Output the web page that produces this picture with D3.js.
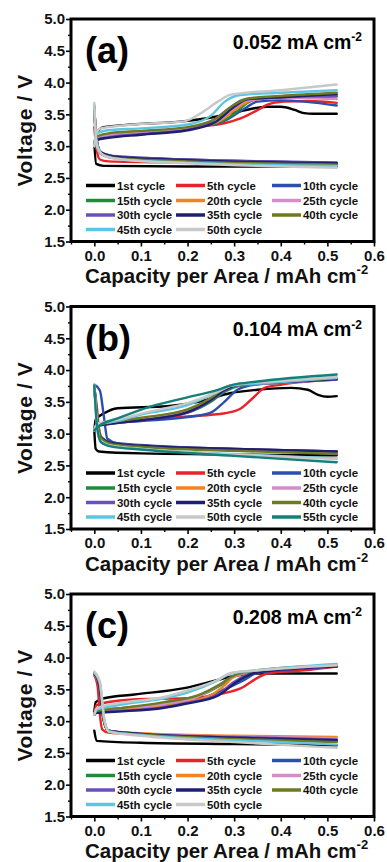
<!DOCTYPE html>
<html>
<head>
<meta charset="utf-8">
<script src="https://cdn.jsdelivr.net/npm/d3@7"></script>
<style>
  html, body { margin: 0; padding: 0; background: #fff; }
  svg { display: block; font-family: "Liberation Sans", Arial, sans-serif; font-weight: bold; }
</style>
</head>
<body>
<svg id="chart" width="387" height="862"></svg>
<script>
// ---- data (capacity mAh cm-2, voltage V) ----
const panelLabels = ["(a)", "(b)", "(c)"];
const currentDensity = ["0.052", "0.104", "0.208"];

const cyclesAC = ["1st cycle", "5th cycle", "10th cycle", "15th cycle", "20th cycle", "25th cycle",
    "30th cycle", "35th cycle", "40th cycle", "45th cycle", "50th cycle"];
const cyclesB = cyclesAC.concat(["55th cycle"]);

const xTicks = [0.0, 0.1, 0.2, 0.3, 0.4, 0.5, 0.6];
const xMinorTicks = [-0.05, 0.05, 0.15, 0.25, 0.35, 0.45, 0.55];
const yTicks = [1.5, 2.0, 2.5, 3.0, 3.5, 4.0, 4.5, 5.0];
const yMinorTicks = [1.75, 2.25, 2.75, 3.25, 3.75, 4.25, 4.75];

// panel (a) 0.052 mA cm-2
const chargeA = [
    [[0,3.0],[0.004,3.2],[0.02,3.3],[0.08,3.34],[0.19,3.39],[0.265,3.47],[0.32,3.56],[0.37,3.62],[0.4,3.62],[0.43,3.57],[0.45,3.52],[0.47,3.51],[0.52,3.51]],
    [[0,3.0],[0.005,3.1],[0.03,3.15],[0.1,3.2],[0.229,3.31],[0.279,3.36],[0.315,3.44],[0.351,3.57],[0.37,3.65],[0.407,3.7],[0.46,3.71],[0.52,3.68]],
    [[0,3.0],[0.005,3.1],[0.03,3.15],[0.1,3.2],[0.22,3.3],[0.28,3.4],[0.32,3.58],[0.35,3.7],[0.4,3.72],[0.52,3.64]],
    [[0,3.0],[0.005,3.12],[0.03,3.18],[0.1,3.22],[0.22,3.3],[0.279,3.41],[0.307,3.55],[0.328,3.68],[0.36,3.75],[0.45,3.77],[0.52,3.78]],
    [[0,3.0],[0.005,3.12],[0.03,3.18],[0.1,3.22],[0.22,3.3],[0.27,3.4],[0.3,3.56],[0.33,3.7],[0.37,3.76],[0.52,3.8]],
    [[0,3.0],[0.005,3.12],[0.03,3.17],[0.1,3.21],[0.22,3.3],[0.27,3.42],[0.3,3.6],[0.33,3.72],[0.4,3.76],[0.52,3.74]],
    [[0,3.0],[0.005,3.1],[0.03,3.14],[0.1,3.19],[0.2,3.26],[0.25,3.38],[0.29,3.6],[0.32,3.73],[0.4,3.77],[0.52,3.79]],
    [[0,3.0],[0.005,3.1],[0.03,3.13],[0.1,3.18],[0.2,3.25],[0.26,3.38],[0.3,3.62],[0.33,3.74],[0.4,3.77],[0.52,3.82]],
    [[0,3.0],[0.005,3.15],[0.03,3.2],[0.1,3.24],[0.2,3.3],[0.26,3.43],[0.3,3.65],[0.33,3.75],[0.4,3.79],[0.52,3.84]],
    [[0,3.0],[0.005,3.2],[0.03,3.25],[0.1,3.28],[0.2,3.34],[0.25,3.48],[0.28,3.7],[0.31,3.8],[0.4,3.84],[0.52,3.88]],
    [[0,3.0],[0.005,3.22],[0.014,3.28],[0.086,3.34],[0.193,3.39],[0.229,3.52],[0.265,3.7],[0.293,3.81],[0.4,3.88],[0.52,3.97]]
];
const dischargeA = [
    [[0,3.05],[0.004,2.72],[0.02,2.69],[0.2,2.68],[0.52,2.68]],
    [[0,3.3],[0.005,2.95],[0.012,2.79],[0.03,2.76],[0.2,2.74],[0.52,2.71]],
    [[0,3.6],[0.004,3.15],[0.012,2.92],[0.04,2.84],[0.2,2.79],[0.52,2.74]],
    [[0,3.6],[0.004,3.1],[0.012,2.9],[0.04,2.82],[0.2,2.77],[0.52,2.72]],
    [[0,3.6],[0.004,3.1],[0.012,2.89],[0.04,2.82],[0.2,2.76],[0.52,2.72]],
    [[0,3.6],[0.004,3.1],[0.012,2.89],[0.04,2.82],[0.2,2.76],[0.52,2.72]],
    [[0,3.62],[0.004,3.15],[0.014,2.9],[0.05,2.84],[0.2,2.79],[0.52,2.74]],
    [[0,3.62],[0.004,3.15],[0.014,2.9],[0.05,2.83],[0.2,2.78],[0.52,2.73]],
    [[0,3.63],[0.004,3.12],[0.015,2.88],[0.05,2.81],[0.2,2.76],[0.52,2.71]],
    [[0,3.65],[0.004,3.1],[0.018,2.86],[0.05,2.8],[0.2,2.74],[0.52,2.69]],
    [[0,3.68],[0.003,3.2],[0.008,2.95],[0.025,2.84],[0.06,2.79],[0.2,2.73],[0.52,2.66]]
];

// panel (b) 0.104 mA cm-2
const chargeB = [
    [[0,3.05],[0.003,3.22],[0.021,3.32],[0.05,3.4],[0.157,3.43],[0.229,3.51],[0.293,3.64],[0.35,3.69],[0.422,3.72],[0.458,3.69],[0.48,3.61],[0.5,3.58],[0.52,3.59]],
    [[0,3.05],[0.005,3.12],[0.03,3.16],[0.1,3.22],[0.2,3.27],[0.28,3.32],[0.315,3.4],[0.343,3.58],[0.365,3.72],[0.4,3.77],[0.52,3.85]],
    [[0,3.05],[0.005,3.12],[0.03,3.16],[0.1,3.2],[0.2,3.26],[0.25,3.33],[0.279,3.5],[0.307,3.69],[0.343,3.77],[0.52,3.86]],
    [[0,3.05],[0.005,3.12],[0.03,3.17],[0.1,3.23],[0.2,3.33],[0.25,3.5],[0.28,3.66],[0.31,3.75],[0.4,3.8],[0.52,3.86]],
    [[0,3.05],[0.005,3.12],[0.03,3.17],[0.1,3.24],[0.2,3.35],[0.24,3.5],[0.27,3.66],[0.3,3.75],[0.4,3.8],[0.52,3.86]],
    [[0,3.05],[0.005,3.12],[0.03,3.16],[0.1,3.23],[0.2,3.36],[0.25,3.55],[0.28,3.7],[0.31,3.77],[0.4,3.8],[0.52,3.86]],
    [[0,3.05],[0.005,3.12],[0.03,3.15],[0.1,3.21],[0.2,3.33],[0.25,3.52],[0.28,3.68],[0.31,3.76],[0.4,3.8],[0.52,3.85]],
    [[0,3.05],[0.005,3.12],[0.03,3.15],[0.1,3.21],[0.2,3.34],[0.25,3.53],[0.28,3.69],[0.31,3.77],[0.4,3.81],[0.52,3.86]],
    [[0,3.05],[0.005,3.13],[0.03,3.17],[0.1,3.25],[0.2,3.38],[0.25,3.56],[0.28,3.72],[0.31,3.78],[0.4,3.82],[0.52,3.87]],
    [[0,3.05],[0.005,3.14],[0.05,3.2],[0.1,3.3],[0.2,3.45],[0.26,3.64],[0.29,3.75],[0.4,3.81],[0.52,3.88]],
    [[0,3.05],[0.005,3.15],[0.05,3.22],[0.12,3.35],[0.2,3.48],[0.265,3.66],[0.3,3.77],[0.4,3.83],[0.52,3.89]],
    [[0,3.05],[0.01,3.12],[0.05,3.24],[0.122,3.43],[0.193,3.56],[0.265,3.69],[0.293,3.76],[0.35,3.82],[0.52,3.93]]
];
const dischargeB = [
    [[0,3.05],[0.003,2.76],[0.01,2.72],[0.1,2.69],[0.52,2.66]],
    [[0,3.72],[0.005,3.45],[0.012,2.98],[0.03,2.85],[0.1,2.8],[0.3,2.75],[0.52,2.71]],
    [[0,3.77],[0.012,3.68],[0.02,3.3],[0.028,2.92],[0.05,2.85],[0.3,2.76],[0.52,2.72]],
    [[0,3.75],[0.005,3.35],[0.015,2.95],[0.04,2.85],[0.1,2.81],[0.3,2.75],[0.52,2.7]],
    [[0,3.75],[0.005,3.3],[0.015,2.93],[0.04,2.84],[0.1,2.8],[0.3,2.74],[0.52,2.69]],
    [[0,3.75],[0.005,3.3],[0.015,2.93],[0.04,2.84],[0.1,2.8],[0.3,2.75],[0.52,2.7]],
    [[0,3.76],[0.005,3.3],[0.015,2.93],[0.04,2.85],[0.1,2.81],[0.3,2.76],[0.52,2.72]],
    [[0,3.76],[0.005,3.3],[0.015,2.93],[0.04,2.85],[0.1,2.81],[0.3,2.76],[0.52,2.72]],
    [[0,3.76],[0.005,3.3],[0.015,2.92],[0.04,2.83],[0.1,2.79],[0.3,2.73],[0.52,2.68]],
    [[0,3.76],[0.004,3.3],[0.012,2.9],[0.035,2.81],[0.1,2.76],[0.3,2.68],[0.52,2.61]],
    [[0,3.77],[0.004,3.3],[0.012,2.9],[0.035,2.81],[0.1,2.76],[0.3,2.67],[0.52,2.6]],
    [[0,3.76],[0.002,3.5],[0.006,3.1],[0.015,2.86],[0.035,2.8],[0.1,2.75],[0.3,2.65],[0.52,2.55]]
];

// panel (c) 0.208 mA cm-2
const chargeC = [
    [[0,3.15],[0.003,3.3],[0.021,3.36],[0.086,3.42],[0.193,3.52],[0.265,3.65],[0.293,3.7],[0.35,3.75],[0.52,3.75]],
    [[0,3.1],[0.004,3.25],[0.05,3.32],[0.122,3.35],[0.2,3.36],[0.279,3.44],[0.315,3.52],[0.35,3.68],[0.371,3.75],[0.45,3.8],[0.52,3.86]],
    [[0,3.1],[0.005,3.15],[0.05,3.19],[0.15,3.25],[0.22,3.33],[0.279,3.5],[0.322,3.65],[0.35,3.76],[0.52,3.86]],
    [[0,3.1],[0.005,3.16],[0.05,3.2],[0.15,3.28],[0.22,3.38],[0.27,3.56],[0.3,3.7],[0.34,3.78],[0.52,3.87]],
    [[0,3.1],[0.005,3.15],[0.05,3.18],[0.15,3.24],[0.25,3.41],[0.279,3.56],[0.3,3.7],[0.35,3.78],[0.52,3.88]],
    [[0,3.1],[0.005,3.16],[0.05,3.2],[0.15,3.27],[0.22,3.38],[0.27,3.58],[0.3,3.71],[0.34,3.78],[0.52,3.86]],
    [[0,3.1],[0.005,3.14],[0.05,3.16],[0.15,3.22],[0.193,3.28],[0.265,3.42],[0.3,3.62],[0.34,3.76],[0.52,3.86]],
    [[0,3.1],[0.005,3.13],[0.05,3.15],[0.15,3.21],[0.193,3.27],[0.265,3.4],[0.31,3.64],[0.35,3.77],[0.52,3.86]],
    [[0,3.1],[0.005,3.16],[0.05,3.2],[0.15,3.3],[0.22,3.4],[0.27,3.58],[0.3,3.72],[0.35,3.8],[0.52,3.88]],
    [[0,3.1],[0.005,3.18],[0.05,3.25],[0.15,3.36],[0.2,3.45],[0.265,3.64],[0.293,3.75],[0.35,3.8],[0.52,3.9]],
    [[0,3.1],[0.005,3.2],[0.05,3.28],[0.15,3.38],[0.193,3.47],[0.265,3.65],[0.293,3.76],[0.35,3.8],[0.52,3.88]]
];
const dischargeC = [
    [[0,2.85],[0.005,2.69],[0.1,2.66],[0.3,2.64],[0.52,2.62]],
    [[0,3.72],[0.007,3.55],[0.012,3.1],[0.017,2.87],[0.03,2.82],[0.1,2.79],[0.3,2.75],[0.52,2.72]],
    [[0,3.75],[0.01,3.6],[0.02,3.05],[0.03,2.85],[0.1,2.8],[0.3,2.74],[0.52,2.7]],
    [[0,3.75],[0.01,3.58],[0.02,3.02],[0.03,2.84],[0.1,2.79],[0.3,2.72],[0.52,2.68]],
    [[0,3.74],[0.01,3.58],[0.02,3.02],[0.03,2.85],[0.1,2.81],[0.3,2.77],[0.52,2.75]],
    [[0,3.74],[0.01,3.58],[0.02,3.02],[0.03,2.85],[0.1,2.8],[0.3,2.76],[0.52,2.73]],
    [[0,3.75],[0.01,3.58],[0.02,3.02],[0.03,2.85],[0.1,2.8],[0.3,2.75],[0.52,2.71]],
    [[0,3.75],[0.01,3.58],[0.02,3.02],[0.03,2.85],[0.1,2.8],[0.3,2.74],[0.52,2.7]],
    [[0,3.76],[0.011,3.6],[0.021,3.0],[0.031,2.84],[0.1,2.79],[0.3,2.72],[0.52,2.67]],
    [[0,3.76],[0.012,3.6],[0.022,3.0],[0.032,2.84],[0.1,2.78],[0.3,2.7],[0.52,2.63]],
    [[0,3.78],[0.012,3.62],[0.022,3.0],[0.032,2.83],[0.1,2.77],[0.3,2.67],[0.52,2.58]]
];

// one colour per cycle, same order as cyclesB
const cycleColors = ["#000000", "#e8232a", "#2b4fae", "#1e8c3a", "#f58220", "#d58cc8",
    "#6a50b8", "#1f1f6e", "#6e7a22", "#5cc6e0", "#c8c8c8", "#157f7a"];

const panels = [
    { cycles: cyclesAC, charge: chargeA, discharge: dischargeA },
    { cycles: cyclesB, charge: chargeB, discharge: dischargeB },
    { cycles: cyclesAC, charge: chargeC, discharge: dischargeC }
];

// ---- layout ----
const plotLeft = 71;
const plotRight = 374;
const panelTop = [19, 306.5, 594];
const panelHeight = 222.5;

const svg = d3.select("#chart");

panels.forEach((panel, i) => {
    const top = panelTop[i];
    const bottom = top + panelHeight;

    const x = d3.scaleLinear().domain([-0.05, 0.6]).range([plotLeft, plotRight]);
    const y = d3.scaleLinear().domain([1.5, 5.0]).range([bottom, top]);

    const g = svg.append("g");

    // curves: discharge then charge for each cycle, in cycle order
    const line = d3.line()
        .x(d => x(d[0]))
        .y(d => y(d[1]))
        .curve(d3.curveMonotoneX);

    const curves = g.append("g")
        .attr("fill", "none")
        .attr("stroke-width", 2.4)
        .attr("stroke-linejoin", "round")
        .attr("stroke-linecap", "round");

    panel.cycles.forEach((c, k) => {
        curves.append("path").attr("stroke", cycleColors[k]).attr("d", line(panel.discharge[k]));
        curves.append("path").attr("stroke", cycleColors[k]).attr("d", line(panel.charge[k]));
    });

    // left axis, major + minor
    g.append("g")
        .attr("transform", `translate(${plotLeft},0)`)
        .call(d3.axisLeft(y).tickValues(yTicks).tickFormat(d3.format(".1f")).tickSize(5).tickPadding(1))
        .call(a => a.select(".domain").remove())
        .call(a => a.selectAll("line").attr("stroke", "#000").attr("stroke-width", 1.6))
        .call(a => a.selectAll("text").attr("font-size", 15).attr("font-family", null).attr("fill", "#111"));

    g.append("g")
        .attr("transform", `translate(${plotLeft},0)`)
        .call(d3.axisLeft(y).tickValues(yMinorTicks).tickFormat("").tickSize(3))
        .call(a => a.select(".domain").remove())
        .call(a => a.selectAll("line").attr("stroke", "#000").attr("stroke-width", 1.4));

    // bottom axis, major + minor
    g.append("g")
        .attr("transform", `translate(0,${bottom})`)
        .call(d3.axisBottom(x).tickValues(xTicks).tickFormat(d3.format(".1f")).tickSize(5).tickPadding(3.8))
        .call(a => a.select(".domain").remove())
        .call(a => a.selectAll("line").attr("stroke", "#000").attr("stroke-width", 1.6))
        .call(a => a.selectAll("text").attr("font-size", 15).attr("font-family", null).attr("fill", "#111"));

    g.append("g")
        .attr("transform", `translate(0,${bottom})`)
        .call(d3.axisBottom(x).tickValues(xMinorTicks).tickFormat("").tickSize(3))
        .call(a => a.select(".domain").remove())
        .call(a => a.selectAll("line").attr("stroke", "#000").attr("stroke-width", 1.4));

    // frame
    g.append("rect")
        .attr("x", plotLeft)
        .attr("y", top)
        .attr("width", plotRight - plotLeft)
        .attr("height", panelHeight)
        .attr("fill", "none")
        .attr("stroke", "#000")
        .attr("stroke-width", 3);

    // panel label and current density
    g.append("text")
        .attr("x", 85)
        .attr("y", top + 44)
        .attr("font-size", 36)
        .text(panelLabels[i]);

    const cd = g.append("text")
        .attr("x", 362)
        .attr("y", top + 29.5)
        .attr("text-anchor", "end")
        .attr("font-size", 19.5);
    cd.append("tspan").text(currentDensity[i] + " mA cm");
    cd.append("tspan").attr("dy", -7.5).attr("font-size", 12).text("-2");

    // legend: 3 columns, row-major
    const colLine = [86, 176, 272];
    const rowY = [-56, -41, -26.5, -12];
    const legend = g.append("g");
    panel.cycles.forEach((c, k) => {
        const col = k % 3;
        const row = Math.floor(k / 3);
        const ly = bottom + rowY[row];
        legend.append("line")
            .attr("x1", colLine[col])
            .attr("x2", colLine[col] + 29)
            .attr("y1", ly)
            .attr("y2", ly)
            .attr("stroke", cycleColors[k])
            .attr("stroke-width", 3.5);
        legend.append("text")
            .attr("x", colLine[col] + 31)
            .attr("y", ly + 4)
            .attr("font-size", 11.4)
            .attr("fill", "#111")
            .text(c);
    });

    // axis titles
    const xt = g.append("text")
        .attr("x", 85)
        .attr("y", bottom + 41.5)
        .attr("font-size", 20.5)
        .attr("fill", "#111");
    xt.append("tspan").text("Capacity per Area / mAh cm");
    xt.append("tspan").attr("dy", -9).attr("font-size", 13).text("-2");

    g.append("text")
        .attr("transform", `translate(32,${(top + bottom) / 2}) rotate(-90)`)
        .attr("text-anchor", "middle")
        .attr("font-size", 21)
        .attr("letter-spacing", 0.6)
        .attr("fill", "#111")
        .text("Voltage / V");
});
</script>
</body>
</html>
